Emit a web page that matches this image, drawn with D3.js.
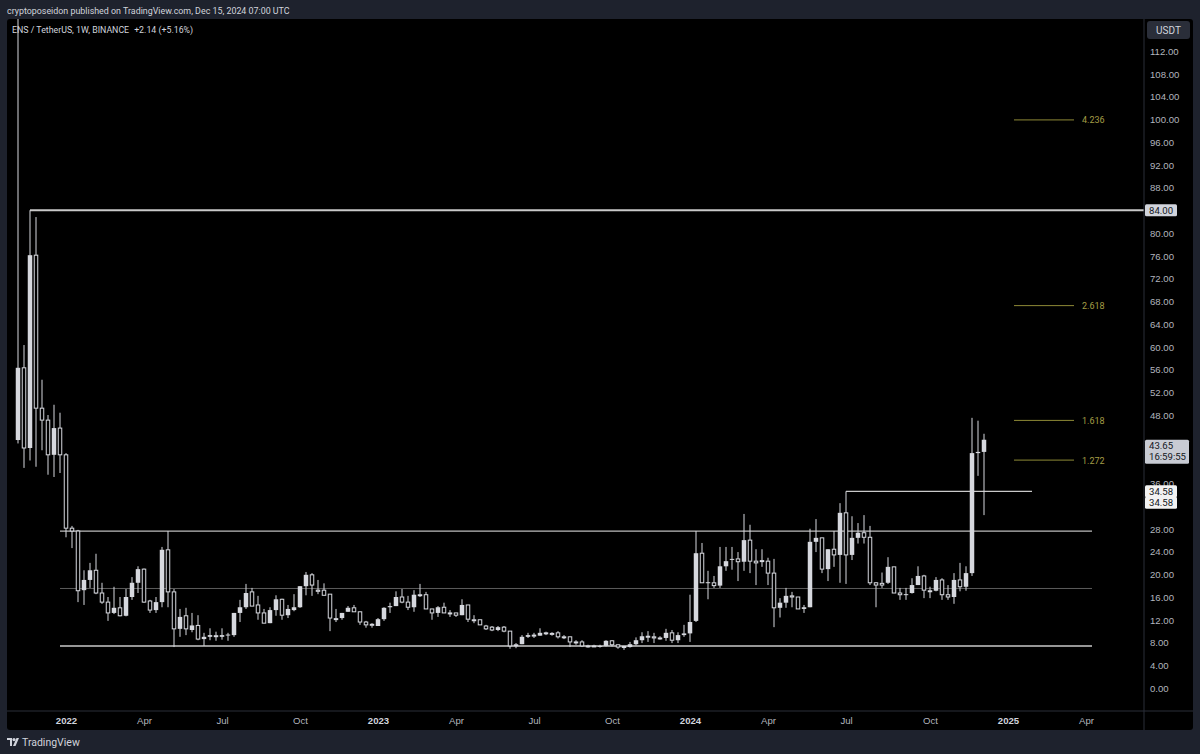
<!DOCTYPE html>
<html>
<head>
<meta charset="utf-8">
<script src="https://cdn.jsdelivr.net/npm/d3@7"></script>
<style>
  body { margin: 0; background: #1e222d; }
  svg { display: block; font-family: Roboto, "Liberation Sans", sans-serif; }
</style>
</head>
<body>
<svg id="chart" width="1200" height="754"></svg>
<script>
// ENS/USDT weekly candles, first bar = week of 2021-11-08
const firstWeek = '2021-11-08';
const opens = [
  43.6, 56.3, 42.2, 76.1, 49.2, 47.1, 41.0, 45.7, 41.0, 28.1,
  27.6, 17.2, 19.0, 20.7, 16.7, 15.1, 13.2, 14.1, 12.7, 16.0,
  18.5, 20.9, 15.3, 13.7, 15.1, 24.3, 16.9, 10.4, 12.7, 10.2,
  11.0, 8.6, 9.0, 9.2, 9.0, 9.3, 9.3, 13.2, 14.2, 16.9,
  14.6, 13.2, 11.4, 13.7, 15.6, 12.8, 13.7, 14.2, 17.9, 19.9,
  17.2, 17.2, 16.5, 12.2, 12.3, 13.4, 14.1, 13.4, 11.6, 11.2,
  10.9, 12.1, 14.2, 14.4, 16.0, 15.1, 14.2, 16.4, 16.4, 13.9,
  13.2, 14.2, 13.2, 13.2, 12.8, 14.6, 12.0, 12.0, 10.9, 10.7,
  10.2, 10.7, 10.0, 7.6, 7.7, 9.0, 9.3, 9.2, 9.7, 9.6,
  9.7, 9.0, 9.0, 8.1, 8.1, 7.4, 7.4, 7.3, 7.4, 8.3,
  7.6, 7.3, 7.2, 7.7, 8.4, 9.1, 9.0, 8.8, 8.8, 9.7,
  8.4, 9.3, 9.6, 11.8, 23.7, 18.5, 18.5, 18.0, 21.4, 22.6,
  22.7, 22.2, 26.0, 22.3, 22.4, 22.3, 20.2, 14.1, 15.0, 16.2,
  16.0, 13.9, 14.2, 25.7, 26.4, 20.9, 24.4, 23.4, 30.8, 23.4,
  26.4, 27.3, 26.5, 18.5, 18.4, 18.5, 21.3, 16.7, 16.5, 16.7,
  18.1, 19.7, 17.1, 17.1, 19.0, 16.4, 16.0, 19.0, 17.8, 20.2,
  41.3, 41.51
];
const highs = [
  125, 60.3, 84.0, 82.8, 54.2, 48.0, 49.8, 48.4, 41.3, 28.5,
  27.8, 20.7, 22.0, 23.6, 18.5, 16.0, 17.8, 16.0, 17.4, 19.5,
  21.4, 21.0, 15.5, 16.0, 24.8, 27.6, 17.4, 13.9, 14.1, 13.2,
  12.8, 9.7, 10.5, 9.9, 10.5, 9.7, 13.2, 15.5, 18.3, 17.6,
  16.2, 13.9, 14.2, 16.3, 15.7, 14.6, 16.5, 17.9, 20.4, 20.2,
  19.0, 18.4, 16.5, 13.9, 13.2, 14.4, 14.6, 13.4, 11.8, 11.4,
  12.3, 14.2, 15.0, 17.0, 17.4, 16.2, 17.2, 18.3, 16.9, 13.9,
  14.4, 15.0, 13.7, 13.2, 15.6, 14.6, 12.8, 12.0, 11.1, 10.9,
  10.9, 10.9, 10.0, 7.9, 9.3, 9.7, 9.7, 10.5, 9.9, 9.8,
  10.0, 9.3, 9.0, 8.4, 8.4, 7.6, 7.6, 7.6, 8.4, 8.4,
  7.6, 7.4, 8.1, 8.9, 9.8, 10.0, 9.7, 9.1, 10.4, 10.2,
  9.8, 11.1, 16.4, 27.6, 25.5, 20.6, 19.7, 24.8, 24.8, 24.8,
  23.9, 30.6, 28.7, 24.4, 24.4, 22.9, 22.7, 15.8, 17.6, 16.9,
  16.0, 14.6, 28.0, 29.7, 26.4, 24.4, 27.6, 32.5, 34.58, 30.2,
  29.0, 30.4, 28.5, 18.6, 20.3, 23.0, 21.3, 17.6, 17.6, 19.3,
  21.4, 19.9, 17.8, 19.5, 19.3, 18.1, 20.2, 22.0, 21.4, 47.5,
  47.0, 44.7
];
const lows = [
  43.0, 38.7, 40.0, 38.9, 41.8, 37.5, 37.1, 37.8, 26.5, 24.6,
  15.1, 14.6, 17.6, 16.5, 14.8, 11.8, 13.0, 12.6, 12.6, 15.5,
  16.7, 15.0, 13.2, 13.2, 14.2, 14.2, 7.2, 9.0, 9.3, 9.8,
  8.4, 7.4, 8.4, 8.3, 8.5, 8.3, 9.0, 11.6, 13.9, 14.4,
  12.0, 11.4, 11.4, 12.7, 12.0, 12.3, 13.5, 14.1, 16.3, 16.2,
  16.5, 16.3, 10.0, 11.6, 12.0, 13.4, 13.4, 11.1, 10.6, 10.6,
  10.9, 11.8, 13.2, 14.4, 14.9, 13.7, 13.4, 16.0, 13.9, 12.0,
  12.5, 13.2, 12.5, 12.5, 12.8, 11.6, 11.4, 11.1, 10.2, 10.0,
  10.0, 9.8, 6.9, 7.0, 7.7, 8.8, 8.8, 9.2, 9.3, 9.2,
  8.7, 8.6, 7.2, 7.6, 7.2, 7.1, 7.2, 7.1, 7.3, 7.3,
  6.9, 6.7, 7.1, 7.5, 7.9, 8.1, 7.9, 8.5, 8.3, 7.9,
  7.9, 9.0, 8.1, 11.6, 18.5, 15.6, 17.6, 17.6, 20.6, 20.8,
  18.8, 20.6, 20.2, 18.1, 21.3, 18.1, 10.7, 12.4, 14.1, 14.2,
  13.9, 13.2, 14.2, 23.9, 20.2, 18.8, 21.3, 18.5, 18.3, 22.5,
  25.4, 25.4, 18.1, 14.2, 17.6, 18.3, 16.7, 15.5, 15.5, 16.6,
  18.1, 15.8, 15.8, 17.0, 15.5, 15.5, 14.8, 17.0, 17.1, 19.7,
  37.3, 30.4
];
const closes = [
  56.3, 42.2, 76.1, 49.2, 47.1, 41.0, 45.7, 41.0, 28.1, 27.6,
  17.1, 19.0, 20.7, 16.7, 15.1, 13.2, 14.1, 12.7, 16.0, 18.5,
  20.9, 15.1, 13.7, 15.1, 24.3, 16.9, 10.4, 12.5, 10.4, 11.0,
  8.6, 9.0, 9.3, 9.1, 9.3, 9.4, 13.2, 14.2, 16.7, 14.4,
  13.2, 11.4, 13.7, 15.6, 12.8, 13.9, 14.2, 17.9, 19.9, 18.1,
  17.0, 16.3, 12.3, 12.1, 13.2, 14.1, 13.4, 11.6, 11.1, 11.1,
  12.1, 14.1, 14.4, 16.0, 15.1, 14.2, 16.4, 16.3, 13.9, 13.2,
  14.2, 13.2, 13.1, 12.8, 14.6, 12.1, 11.9, 11.1, 10.4, 10.2,
  10.7, 10.0, 7.4, 7.5, 9.0, 9.3, 9.2, 9.7, 9.6, 9.5,
  9.0, 8.9, 8.1, 8.0, 7.4, 7.3, 7.3, 7.4, 8.3, 7.6,
  7.2, 7.2, 7.7, 8.4, 9.1, 9.0, 8.8, 8.7, 9.7, 8.4,
  9.3, 9.6, 11.6, 23.7, 18.5, 18.6, 18.0, 21.4, 22.3, 22.7,
  22.2, 26.0, 22.3, 22.0, 22.3, 20.2, 14.1, 15.0, 16.2, 16.0,
  13.9, 14.2, 25.7, 26.4, 20.9, 24.4, 23.4, 30.8, 23.4, 26.4,
  27.3, 26.5, 18.5, 18.1, 18.1, 21.3, 16.7, 16.4, 16.5, 18.1,
  19.7, 17.2, 17.0, 19.0, 16.4, 16.0, 19.0, 17.8, 20.2, 41.3,
  41.51, 43.65
];

// axis ticks
const yTicks = d3.range(0, 113, 4);
const xTickDates = ['2022-01-03', '2022-04-04', '2022-07-04', '2022-10-03',
  '2023-01-02', '2023-04-03', '2023-07-03', '2023-10-02',
  '2024-01-01', '2024-04-01', '2024-07-01', '2024-10-07',
  '2025-01-06', '2025-04-07'];

// drawings on the chart
const hLinePrices = [84.0, 27.6, 17.5, 7.38, 34.58];
const hLineStarts = ['2021-11-22', '2021-12-27', '2021-12-27', '2021-12-27', '2024-07-01'];
const hLineEnds = [null, '2025-04-14', '2025-04-14', '2025-04-14', '2025-02-03'];
const fibLow = 14.4, fibHigh = 34.58;
const fibLevels = [1.272, 1.618, 2.618, 4.236];
const fibStart = '2025-01-13', fibEnd = '2025-03-24';

const parse = d3.utcParse('%Y-%m-%d');
const start = parse(firstWeek);
const candles = opens.map((o, i) => ({
  date: d3.utcDay.offset(start, i * 7),
  o, h: highs[i], l: lows[i], c: closes[i]
}));

const svg = d3.select('#chart');
const panel = { x0: 7, y0: 19, x1: 1193, y1: 730 };
const plotRight = 1144, plotBottom = 711;

const x = d3.scaleUtc()
  .domain([start, candles[candles.length - 1].date])
  .range([18, 984]);
const y = d3.scaleLinear().domain([0, 112]).range([688, 51]);

const txt = '#d1d4dc', dim = '#b2b5be', grid = '#2a2e39', candleCol = '#d6d8de';

// header
svg.append('text').attr('x', 7).attr('y', 14)
  .attr('fill', txt).style('font-size', '8.9px')
  .text('cryptoposeidon published on TradingView.com, Dec 15, 2024 07:00 UTC');

// chart panel
svg.append('rect')
  .attr('x', panel.x0).attr('y', panel.y0)
  .attr('width', panel.x1 - panel.x0).attr('height', panel.y1 - panel.y0)
  .attr('rx', 3).attr('fill', '#000');

svg.append('defs').append('clipPath').attr('id', 'plotClip')
  .append('rect').attr('x', panel.x0).attr('y', panel.y0)
  .attr('width', plotRight - panel.x0).attr('height', plotBottom - panel.y0);

const plot = svg.append('g').attr('clip-path', 'url(#plotClip)');

// horizontal drawings
hLinePrices.forEach((p, i) => {
  const x1 = hLineEnds[i] ? x(parse(hLineEnds[i])) : plotRight;
  const style = [
    { c: '#c9c9c9', w: 1.8 },
    { c: '#bdbdbd', w: 1.2 },
    { c: '#5c5c5c', w: 1 },
    { c: '#c9c9c9', w: 1.4 },
    { c: '#c9c9c9', w: 1.2 }
  ][i];
  plot.append('line')
    .attr('x1', x(parse(hLineStarts[i]))).attr('x2', x1)
    .attr('y1', y(p)).attr('y2', y(p))
    .attr('stroke', style.c).attr('stroke-width', style.w);
});

// fib extension levels
const fibCol = '#8e8a36';
fibLevels.forEach(f => {
  const v = fibLow + f * (fibHigh - fibLow);
  plot.append('line')
    .attr('x1', x(parse(fibStart))).attr('x2', x(parse(fibEnd)))
    .attr('y1', y(v)).attr('y2', y(v))
    .attr('stroke', fibCol).attr('stroke-width', 1);
  plot.append('text')
    .attr('x', x(parse(fibEnd)) + 8).attr('y', y(v) + 3.5)
    .attr('fill', '#a39d45').style('font-size', '9px')
    .text(f.toFixed(3));
});

// candles
const cg = plot.append('g');
cg.selectAll('line.wick').data(candles).enter().append('line')
  .attr('class', 'wick')
  .attr('x1', d => x(d.date)).attr('x2', d => x(d.date))
  .attr('y1', d => y(d.h)).attr('y2', d => y(d.l))
  .attr('stroke', candleCol).attr('stroke-width', 1);

cg.selectAll('rect.body').data(candles).enter().append('rect')
  .attr('class', 'body')
  .attr('x', d => x(d.date) - (d.c >= d.o ? 2.25 : 1.75))
  .attr('width', d => d.c >= d.o ? 4.5 : 3.5)
  .attr('y', d => y(Math.max(d.o, d.c)))
  .attr('height', d => Math.max(1, Math.abs(y(d.o) - y(d.c))))
  .attr('fill', d => d.c >= d.o ? candleCol : '#000')
  .attr('stroke', d => d.c >= d.o ? 'none' : candleCol)
  .attr('stroke-width', 1);

// axis separators
svg.append('line').attr('x1', plotRight).attr('x2', plotRight)
  .attr('y1', panel.y0).attr('y2', panel.y1)
  .attr('stroke', grid).attr('stroke-width', 1);
svg.append('line').attr('x1', panel.x0).attr('x2', panel.x1)
  .attr('y1', plotBottom).attr('y2', plotBottom)
  .attr('stroke', grid).attr('stroke-width', 1);

// price labels on the scale
const priceLabels = [
  { v: 84.0, lines: ['84.00'], w: 32, fill: '#d1d4dc', dy: 0 },
  { v: closes[closes.length - 1], lines: ['43.65', '16:59:55'], w: 44, fill: '#c8cbd3', dy: 6 },
  { v: 34.58, lines: ['34.58'], w: 32, fill: '#f2f2f2', dy: 0 },
  { v: 34.58, lines: ['34.58'], w: 32, fill: '#f2f2f2', dy: 11.5 }
];

// scale ticks hidden under the price labels (36.00 stays, partly covered, as in TradingView)
const hidden = yTicks.filter(t => priceLabels.some(p => {
  const top = y(p.v) - 6 + p.dy - (p.lines.length - 1) * 6;
  const bottom = top + 12 * p.lines.length;
  return y(t) > top - 5 && y(t) < bottom + 5;
}));

const yAxis = d3.axisRight(y)
  .tickValues(yTicks.filter(t => !hidden.includes(t) || t === 36))
  .tickFormat(d3.format('.2f'))
  .tickSize(0).tickPadding(0);
const ya = svg.append('g').attr('transform', `translate(${plotRight + 6},0)`).call(yAxis);
ya.select('.domain').remove();
ya.selectAll('text').attr('fill', dim).style('font-size', '9.6px')
  .attr('dy', '0.35em');

// USDT unit box
svg.append('rect').attr('x', 1147).attr('y', 21).attr('width', 43).attr('height', 18)
  .attr('rx', 3).attr('fill', grid);
svg.append('text').attr('x', 1168.5).attr('y', 33.5).attr('text-anchor', 'middle')
  .attr('fill', txt).style('font-size', '10px').text('USDT');

priceLabels.forEach(p => {
  const h = 12 * p.lines.length;
  const top = y(p.v) - 6 + p.dy - (p.lines.length - 1) * 6 + (p.lines.length > 1 ? 6 : 0);
  svg.append('rect').attr('x', plotRight + 1).attr('y', top)
    .attr('width', p.w).attr('height', h)
    .attr('rx', 1.5).attr('fill', p.fill);
  p.lines.forEach((s, k) => {
    svg.append('text').attr('x', plotRight + 5).attr('y', top + 9.3 + k * 11)
      .attr('fill', '#131722').style('font-size', '9.6px').text(s);
  });
});

// time axis
const xAxis = d3.axisBottom(x)
  .tickValues(xTickDates.map(parse))
  .tickFormat(d => d.getUTCMonth() === 0 ? d3.utcFormat('%Y')(d) : d3.utcFormat('%b')(d))
  .tickSize(0).tickPadding(0);
const xa = svg.append('g').attr('transform', `translate(0,${plotBottom + 6})`).call(xAxis);
xa.select('.domain').remove();
xa.selectAll('text')
  .attr('dy', '0.71em')
  .style('font-size', '9.6px')
  .attr('fill', d => d.getUTCMonth() === 0 ? txt : dim)
  .style('font-weight', d => d.getUTCMonth() === 0 ? 'bold' : 'normal');

// legend
const leg = svg.append('text').attr('x', 12).attr('y', 32.5)
  .attr('fill', txt).style('font-size', '8.8px');
leg.append('tspan').text('ENS / TetherUS, 1W, BINANCE');
leg.append('tspan').attr('dx', 5).text('+2.14 (+5.16%)');

// TradingView logo
const logo = svg.append('g').attr('transform', 'translate(7,738)').attr('fill', txt);
logo.append('path').attr('d', 'M0,0 H5 V8 H3 V2 H0 Z');
logo.append('circle').attr('cx', 7).attr('cy', 1.6).attr('r', 1.6);
logo.append('path').attr('d', 'M9.5,0 H12 L8.5,8 H6 Z');
svg.append('text').attr('x', 22).attr('y', 746)
  .attr('fill', txt).style('font-size', '10.5px').text('TradingView');
</script>
</body>
</html>
